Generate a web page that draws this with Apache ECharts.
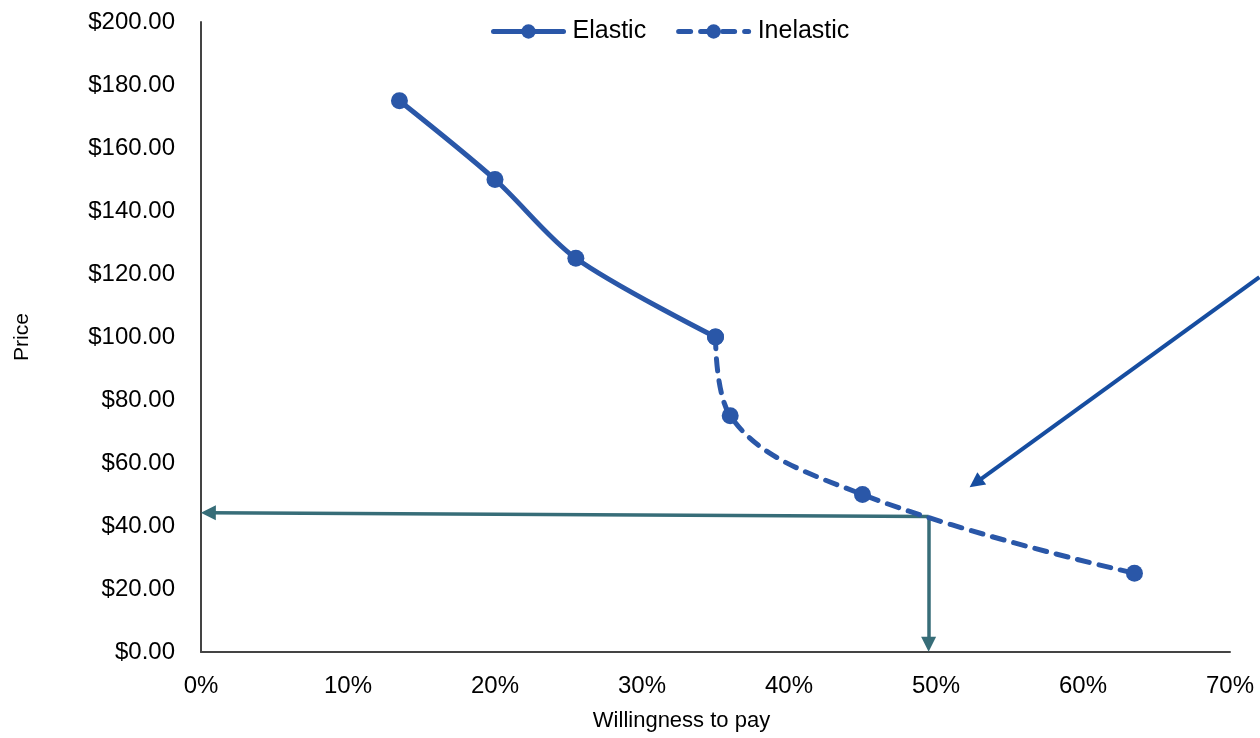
<!DOCTYPE html>
<html>
<head>
<meta charset="utf-8">
<script src="https://cdn.jsdelivr.net/npm/echarts@6/dist/echarts.min.js"></script>
<style>html,body{margin:0;padding:0;background:#fff;}#main{width:1260px;height:738px;}</style>
</head>
<body>
<div id="main"></div>
<script>
// Data (x = willingness to pay in %, y = price in $)
var elasticX = [13.5, 20, 25.5, 35];
var elasticY = [175, 150, 125, 100];
var inelasticX = [35, 36, 45, 63.5];
var inelasticY = [100, 75, 50, 25];
var xTicks = [0, 10, 20, 30, 40, 50, 60, 70];
var yTicks = [0, 20, 40, 60, 80, 100, 120, 140, 160, 180, 200];
// annotation arrows (data coordinates): [startX, startY, endX, endY]
var tealArrowH = [49.5, 43, 0.5, 44.2];
var tealArrowV = [49.5, 43, 49.5, 2.5];
var blueArrow = [72, 119, 52.7, 53.7];

function pairs(xs, ys) { return xs.map(function (x, i) { return [x, ys[i]]; }); }
function seg(a) { return { coords: [[a[0], a[1]], [a[2], a[3]]] }; }

var font = 'Liberation Sans, Arial, sans-serif';
var chart = echarts.init(document.getElementById('main'));
chart.setOption({
  animation: false,
  grid: { left: 201, right: 30, top: 22, bottom: 86, containLabel: false },
  legend: {
    data: ['Elastic', 'Inelastic'],
    left: 486, top: 14,
    itemWidth: 70, itemHeight: 18, itemGap: 30,
    lineStyle: { width: 5 },
    textStyle: { fontFamily: font, fontSize: 25, color: '#000', padding: [0, 0, 0, 4] }
  },
  xAxis: {
    type: 'value', min: xTicks[0], max: xTicks[xTicks.length - 1], interval: 10,
    name: 'Willingness to pay', nameLocation: 'middle', nameGap: 58,
    nameTextStyle: { fontFamily: font, fontSize: 22, color: '#000', padding: [0, 68, 0, 0] },
    axisLine: { show: true, lineStyle: { color: '#444', width: 2 } },
    axisTick: { show: false }, splitLine: { show: false },
    axisLabel: { fontFamily: font, fontSize: 24, color: '#000', margin: 22,
      formatter: function (v) { return v + '%'; } }
  },
  yAxis: {
    type: 'value', min: yTicks[0], max: yTicks[yTicks.length - 1], interval: 20,
    name: 'Price', nameLocation: 'middle', nameGap: 168, nameRotate: 90,
    nameTextStyle: { fontFamily: font, fontSize: 21, color: '#000' },
    axisLine: { show: true, lineStyle: { color: '#444', width: 2 } },
    axisTick: { show: false }, splitLine: { show: false },
    axisLabel: { fontFamily: font, fontSize: 24, color: '#000', margin: 26,
      formatter: function (v) { return '$' + v.toFixed(2); } }
  },
  series: [
    {
      name: 'Elastic', type: 'line', smooth: 0.3, data: pairs(elasticX, elasticY),
      symbol: 'circle', symbolSize: 17, z: 3,
      itemStyle: { color: '#2A57A8' },
      lineStyle: { color: '#2A57A8', width: 5, cap: 'round' }
    },
    {
      name: 'Inelastic', type: 'line', smooth: 0.4, data: pairs(inelasticX, inelasticY),
      symbol: 'circle', symbolSize: 17, z: 3,
      itemStyle: { color: '#2A57A8' },
      lineStyle: { color: '#2A57A8', width: 5, type: [12, 10], cap: 'round' }
    },
    {
      name: 'tealArrows', type: 'lines', coordinateSystem: 'cartesian2d', clip: false, z: 2,
      symbol: ['none', 'triangle'], symbolSize: 15,
      lineStyle: { color: '#376D78', width: 3.5, opacity: 1, curveness: 0 },
      data: [seg(tealArrowH), seg(tealArrowV)]
    },
    {
      name: 'blueArrow', type: 'lines', coordinateSystem: 'cartesian2d', clip: false, z: 2,
      symbol: ['none', 'triangle'], symbolSize: 15,
      lineStyle: { color: '#164DA0', width: 4, opacity: 1, curveness: 0 },
      data: [seg(blueArrow)]
    }
  ]
});
</script>
</body>
</html>
